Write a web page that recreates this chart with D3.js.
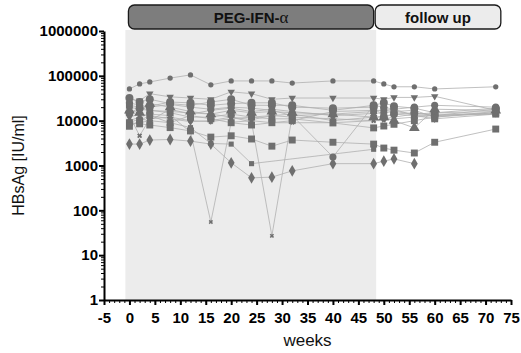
<!DOCTYPE html>
<html>
<head>
<meta charset="utf-8">
<script src="https://cdn.jsdelivr.net/npm/d3@7/dist/d3.min.js"></script>
<style>
  html, body { margin: 0; padding: 0; background: #fff; }
  svg { display: block; font-family: Arial, "Liberation Sans", sans-serif; }
</style>
</head>
<body>
<svg id="chart" width="521" height="353"></svg>
<script>
// Sampling weeks (columns of every patient series)
const weeks = [0, 2, 4, 8, 12, 16, 20, 24, 28, 32, 40, 48, 50, 52, 56, 60, 72];

// HBsAg [IU/ml] per patient, aligned with weeks (null = not measured)
const p01 = [51000, 66000, 73000, 89000, 105000, 63000, 77000, 77000, 77000, 69000, 77000, 77000, 66000, 57000, 57000, 51000, 57000];
const p02 = [30000, 28000, 40000, 34000, 32000, 30000, 44000, 40000, 30000, 32000, 32000, 32000, 30000, 33000, 33000, 35000, 17000];
const p03 = [32000, 26000, 30000, 24000, 22000, 26000, 30000, 22000, 22000, 22000, 17000, 22000, 25000, 21000, 19000, 15000, 19000];
const p04 = [22000, 20000, 17000, 15000, 12000, 12000, 14000, 12000, 11000, 11000, 8900, 6900, 7600, 8300, 10000, 12000, 15000];
const p05 = [17000, 15000, 24000, 20000, 16000, 14000, 17000, 15000, 16000, 15000, 14000, 12000, 12000, 10000, 6900, 18000, 17000];
const p06 = [12000, 14000, 13000, 11000, 9500, 10000, 12000, 10500, 13000, 14000, 10000, 12000, 12500, 14000, 13000, 13000, 15000];
const p07 = [9000, 11000, 10000, 18000, 14000, 17000, 19000, 16000, 18000, 16000, 13000, 14500, 15000, 16000, 17000, 12000, 16000];
const p08 = [15000, 19000, 21000, 26000, 25000, 22000, 24000, 25000, 25000, 20000, 19000, 20000, 12000, 14000, 15000, 13000, 18000];
const p09 = [7500, 10000, 13000, 9000, 13000, 11000, 9000, 8000, 9000, 10000, 16000, 17000, 17000, 18000, 13000, 11000, 14000];
const p10 = [13000, 4600, 11000, 12000, 10000, 9500, 11000, 12000, 13000, 12000, 11000, 10000, 11000, 12000, 14000, 14000, 14000];
const p11 = [10000, 12000, 14000, 13000, 5600, 55, 9200, 10000, 9000, 9000, 9000, 10000, 10000, 11000, 12000, 13000, 14000];
const p12 = [20000, 18000, 17000, 16000, 15000, 14000, 12000, 9300, 27, 13000, 14000, 16000, 17000, 16000, 14000, 15000, 16000];
const p13 = [25000, 22000, 20000, 23000, 20000, 18000, 20000, 19000, 17000, 13000, 1550, 22000, 20000, 18000, 20000, 22000, 20000];
const p14 = [9000, 8500, 8000, 7000, 5900, 4300, 4600, 3900, 2700, 3700, 3300, 3000, 2450, 2200, 1900, 3300, 6500];
const p15 = [8000, 9000, 10000, 9000, 7000, 3100, 3000, 1100, null, null, null, 2300, null, null, null, null, null];
const p16 = [3000, 3000, 3700, 3800, 3500, 3000, 1150, 530, 550, 760, 1100, 1100, 1250, 1400, 1100, null, null];

const patients = [p01, p02, p03, p04, p05, p06, p07, p08, p09, p10, p11, p12, p13, p14, p15, p16];
// marker shape and size for each patient
const shapes = ["circle", "tridown", "circle", "square", "triangle", "tridown", "diamond", "circle",
                "square", "cross", "cross", "cross", "circle", "square", "square", "diamond"];
const sizes  = [22, 24, 50, 48, 50, 24, 40, 50, 48, 16, 12, 12, 40, 48, 26, 40];

// Axis ticks
const yTicks = [1, 10, 100, 1000, 10000, 100000, 1000000];
const xTicks = [-5, 0, 5, 10, 15, 20, 25, 30, 35, 40, 45, 50, 55, 60, 65, 70, 75];

// Study phases shown in the header bars
const phaseNames = ["PEG-IFN-", "follow up"];
const phaseStart = [-0.2, 48.3];
const phaseEnd = [48, 73];
const treatmentShade = [-0.8, 48.5];

const svg = d3.select("#chart");

const x = d3.scaleLinear().domain([-5, 75]).range([104, 511]);
const y = d3.scaleLog().domain([1, 1000000]).range([300, 31]);

// shaded treatment period
svg.append("rect")
  .attr("x", x(treatmentShade[0]))
  .attr("y", 30)
  .attr("width", x(treatmentShade[1]) - x(treatmentShade[0]))
  .attr("height", y(1) - 30)
  .attr("fill", "#ececec");

// header bars
const barFill = ["#7d7d7d", "#ececec"];
phaseNames.forEach((name, i) => {
  svg.append("rect")
    .attr("x", x(phaseStart[i]))
    .attr("y", 5)
    .attr("width", x(phaseEnd[i]) - x(phaseStart[i]))
    .attr("height", 24)
    .attr("rx", 6).attr("ry", 6)
    .attr("fill", barFill[i])
    .attr("stroke", "#1a1a1a")
    .attr("stroke-width", 1.3);
  const t = svg.append("text")
    .attr("x", (x(phaseStart[i]) + x(phaseEnd[i])) / 2)
    .attr("y", 22.5)
    .attr("text-anchor", "middle")
    .attr("font-weight", "bold")
    .attr("font-size", 15)
    .attr("fill", "#111");
  t.append("tspan").text(name);
  if (i === 0) {
    t.append("tspan")
      .attr("font-family", "'Liberation Serif', 'DejaVu Serif', serif")
      .attr("font-weight", "normal")
      .attr("font-size", 17)
      .text("α");
  }
});

// patient series
const symbolFor = {
  circle: d3.symbolCircle, square: d3.symbolSquare, triangle: d3.symbolTriangle,
  tridown: d3.symbolTriangle, diamond: d3.symbolDiamond, cross: d3.symbolCross
};
const line = d3.line().x(d => x(d[0])).y(d => y(d[1]));
const gData = svg.append("g");

patients.forEach(vals => {
  const pts = weeks.map((w, j) => [w, vals[j]]).filter(d => d[1] != null);
  gData.append("path")
    .attr("d", line(pts))
    .attr("fill", "none")
    .attr("stroke", "#b0b0b0")
    .attr("stroke-width", 0.8);
});

patients.forEach((vals, k) => {
  const pts = weeks.map((w, j) => [w, vals[j]]).filter(d => d[1] != null);
  const sym = d3.symbol().type(symbolFor[shapes[k]]).size(sizes[k]);
  gData.selectAll(null).data(pts).enter().append("path")
    .attr("d", sym)
    .attr("transform", d => `translate(${x(d[0])},${y(d[1])})` + (shapes[k] === "tridown" ? " rotate(180)" : "") + (shapes[k] === "cross" ? " rotate(45)" : ""))
    .attr("fill", "#6f6f6f");
});

// y axis: decades plus log minor ticks
const minorY = [];
for (let e = 0; e < 6; e++) for (let m = 2; m <= 9; m++) minorY.push(m * Math.pow(10, e));
svg.append("g")
  .attr("transform", "translate(104,0)")
  .call(d3.axisLeft(y).tickValues(minorY).tickSize(3).tickFormat(""))
  .call(g => g.select(".domain").remove())
  .selectAll("line").attr("stroke", "#000").attr("stroke-width", 1);

const yAxis = svg.append("g")
  .attr("transform", "translate(104,0)")
  .call(d3.axisLeft(y).tickValues(yTicks).tickSize(5).tickPadding(1).tickSizeOuter(0).tickFormat(d3.format("d")));
yAxis.select(".domain").attr("stroke-width", 2);
yAxis.selectAll("line").attr("stroke-width", 2);
yAxis.selectAll("text").attr("font-size", 15).attr("font-weight", "bold").attr("fill", "#000")
  .attr("font-family", "Arial, 'Liberation Sans', sans-serif");

// x axis: labelled every 5 weeks, minor tick each week
svg.append("g")
  .attr("transform", "translate(0,300)")
  .call(d3.axisBottom(x).tickValues(d3.range(-5, 76, 1)).tickSize(3).tickFormat(""))
  .call(g => g.select(".domain").remove())
  .selectAll("line").attr("stroke", "#000").attr("stroke-width", 1);

const xAxis = svg.append("g")
  .attr("transform", "translate(0,300)")
  .call(d3.axisBottom(x).tickValues(xTicks).tickSize(5).tickPadding(7).tickSizeOuter(0).tickFormat(d3.format("d")));
xAxis.select(".domain").attr("stroke-width", 2);
xAxis.selectAll("line").attr("stroke-width", 2);
xAxis.selectAll("text").attr("font-size", 15).attr("font-weight", "bold").attr("fill", "#000")
  .attr("font-family", "Arial, 'Liberation Sans', sans-serif")
  .text(d => d < 0 ? "-" + Math.abs(d) : d);

// axis titles
svg.append("text")
  .attr("x", x(35)).attr("y", 346)
  .attr("text-anchor", "middle")
  .attr("font-size", 17)
  .attr("fill", "#111")
  .text("weeks");

svg.append("text")
  .attr("transform", `translate(24,${(y(1) + y(1000000)) / 2}) rotate(-90)`)
  .attr("text-anchor", "middle")
  .attr("font-size", 16)
  .attr("fill", "#111")
  .text("HBsAg [IU/ml]");
</script>
</body>
</html>
